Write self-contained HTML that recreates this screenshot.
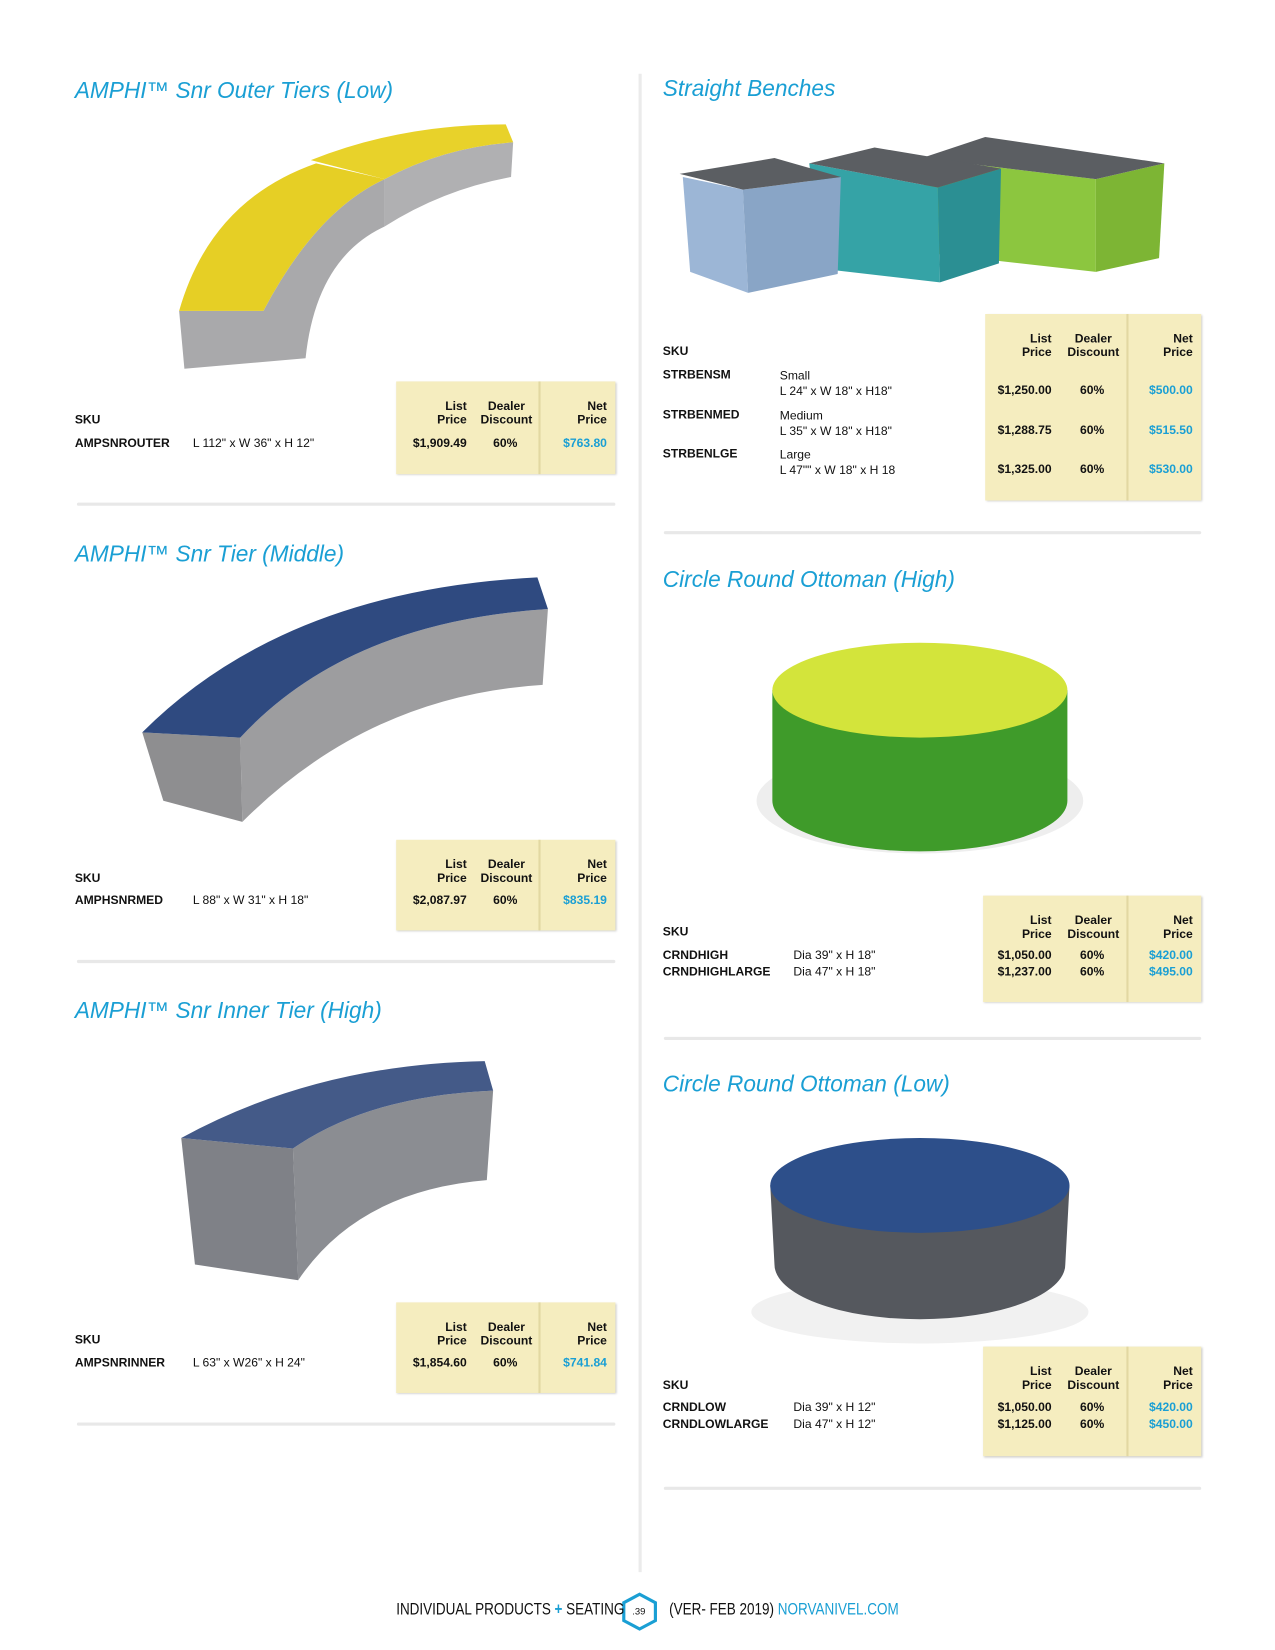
<!DOCTYPE html>
<html><head><meta charset="utf-8">
<style>
*{margin:0;padding:0;box-sizing:border-box}
html,body{width:1275px;height:1650px;overflow:hidden;background:#fff}
#page{position:absolute;left:0;top:0;width:1210px;height:1566px;transform:scale(1.0537);transform-origin:0 0;font-family:"Liberation Sans",sans-serif;color:#111}
.title{position:absolute;color:#1a9fd4;font-family:"Liberation Sans",sans-serif;font-style:italic;font-size:21.5px;white-space:nowrap}
.t{position:absolute;font-size:11.5px;white-space:nowrap}
.b{font-weight:bold}
.box{position:absolute;background:#f5edbf;box-shadow:1px 1px 2px #ccc}
.box .dv{position:absolute;top:0;bottom:0;width:2px;background:#e2d8a2}
.box .t{font-weight:bold}
.sep{position:absolute;height:3px;background:#e8e8e8;border-radius:2px}
svg{position:absolute;left:0;top:0}
.foot{position:absolute;top:1519px;font-family:"Liberation Sans Narrow","Liberation Sans",sans-serif;font-size:16px;white-space:nowrap;transform:scaleX(0.8);transform-origin:0 0}
</style></head><body>
<div id="page">
<svg width="1210" height="1566">
 <rect x="606" y="70" width="3" height="1422" fill="#ebebeb"/>
 <g>
  <path d="M170,295 L250,295 Q300,200 365,170 L365,215 Q300,245 290,340 L175,350 Z" fill="#a9a9ab"/>
  <path d="M170,295 Q200,190 300,155 L365,170 Q300,200 250,295 Z" fill="#e6cf25"/>
  <path d="M365,170 L365,215 Q420,180 485,168 L487,135 Q420,140 365,170Z" fill="#b0b0b2"/>
  <path d="M295,152 L365,170 Q420,140 487,135 L480,118 Q380,118 295,152Z" fill="#e8d22a"/>
 </g>
 <g>
  <path d="M228,700 Q330,590 520,578 L515,650 Q350,660 230,780Z" fill="#9d9d9f"/>
  <path d="M135,695 L228,700 L230,780 L155,760 Z" fill="#8e8e90"/>
  <path d="M135,695 Q270,560 510,548 L520,578 Q330,590 228,700 Z" fill="#2f4a80"/>
 </g>
 <g>
  <path d="M278,1090 Q350,1040 468,1035 L462,1120 Q340,1130 283,1215Z" fill="#8b8d92"/>
  <path d="M172,1080 L278,1090 L283,1215 L185,1200 Z" fill="#7f8187"/>
  <path d="M172,1080 Q300,1010 460,1007 L468,1035 Q350,1040 278,1090 Z" fill="#445a88"/>
 </g>
 <g>
  <path d="M875,150 L1040,170 L1040,258 L880,240Z" fill="#8cc63f"/>
  <path d="M1040,170 L1105,155 L1100,245 L1040,258Z" fill="#7db534"/>
  <path d="M875,150 L935,130 L1105,155 L1040,170Z" fill="#5b5e62"/>
  <path d="M768,155 L890,178 L892,268 L780,255Z" fill="#35a3a6"/>
  <path d="M890,178 L950,160 L948,250 L892,268Z" fill="#2b8f93"/>
  <path d="M768,155 L830,140 L950,160 L890,178Z" fill="#5b5e62"/>
  <path d="M648,168 L705,180 L710,278 L655,258Z" fill="#9cb6d6"/>
  <path d="M705,180 L798,168 L795,260 L710,278Z" fill="#89a5c6"/>
  <path d="M645,165 L735,150 L798,168 L705,180Z" fill="#5b5e62"/>
 </g>
 <g>
  <ellipse cx="873" cy="760" rx="155" ry="50" fill="#eee"/>
  <path d="M733,655 L733,760 A140,48 0 0 0 1013,760 L1013,655Z" fill="#3f9b2a"/>
  <ellipse cx="873" cy="655" rx="140" ry="45" fill="#d3e43b"/>
 </g>
 <g>
  <ellipse cx="873" cy="1245" rx="160" ry="30" fill="#f1f1f1"/>
  <path d="M731,1125 L735,1200 A138,52 0 0 0 1011,1200 L1015,1125Z" fill="#55585e"/>
  <ellipse cx="873" cy="1125" rx="142" ry="45" fill="#2d4f8a"/>
 </g>
 <g>
  <polygon points="607,1513 622,1521 622,1538 607,1546 592,1538 592,1521" fill="none" stroke="#1a9fd4" stroke-width="3"/>
 </g>
</svg>

<div class="title" style="left:71px;top:74px">AMPHI™ Snr Outer Tiers (Low)</div>
<div class="t b" style="left:71px;top:393px">SKU</div>
<div class="t b" style="left:71px;top:415px">AMPSNROUTER</div>
<div class="t" style="left:183px;top:415px">L 112" x W 36" x H 12"</div>
<div class="box" style="left:376px;top:362px;width:208px;height:88px">
 <div class="dv" style="left:135px"></div>
 <div class="t" style="right:141px;top:18px;text-align:right;line-height:13px">List<br>Price</div>
 <div class="t" style="left:80px;top:18px;text-align:center;line-height:13px">Dealer<br>Discount</div>
 <div class="t" style="right:8px;top:18px;text-align:right;line-height:13px">Net<br>Price</div>
 <div class="t" style="right:141px;top:53px">$1,909.49</div>
 <div class="t" style="left:92px;top:53px">60%</div>
 <div class="t" style="right:8px;top:53px;color:#1a9fd4">$763.80</div>
</div>
<div class="sep" style="left:73px;top:477px;width:511px"></div>

<div class="title" style="left:71px;top:514px">AMPHI™ Snr Tier (Middle)</div>
<div class="t b" style="left:71px;top:828px">SKU</div>
<div class="t b" style="left:71px;top:849px">AMPHSNRMED</div>
<div class="t" style="left:183px;top:849px">L 88" x W 31" x H 18"</div>
<div class="box" style="left:376px;top:797px;width:208px;height:86px">
 <div class="dv" style="left:135px"></div>
 <div class="t" style="right:141px;top:18px;text-align:right;line-height:13px">List<br>Price</div>
 <div class="t" style="left:80px;top:18px;text-align:center;line-height:13px">Dealer<br>Discount</div>
 <div class="t" style="right:8px;top:18px;text-align:right;line-height:13px">Net<br>Price</div>
 <div class="t" style="right:141px;top:52px">$2,087.97</div>
 <div class="t" style="left:92px;top:52px">60%</div>
 <div class="t" style="right:8px;top:52px;color:#1a9fd4">$835.19</div>
</div>
<div class="sep" style="left:73px;top:911px;width:511px"></div>

<div class="title" style="left:71px;top:947px">AMPHI™ Snr Inner Tier (High)</div>
<div class="t b" style="left:71px;top:1266px">SKU</div>
<div class="t b" style="left:71px;top:1288px">AMPSNRINNER</div>
<div class="t" style="left:183px;top:1288px">L 63" x W26" x H 24"</div>
<div class="box" style="left:376px;top:1236px;width:208px;height:86px">
 <div class="dv" style="left:135px"></div>
 <div class="t" style="right:141px;top:18px;text-align:right;line-height:13px">List<br>Price</div>
 <div class="t" style="left:80px;top:18px;text-align:center;line-height:13px">Dealer<br>Discount</div>
 <div class="t" style="right:8px;top:18px;text-align:right;line-height:13px">Net<br>Price</div>
 <div class="t" style="right:141px;top:52px">$1,854.60</div>
 <div class="t" style="left:92px;top:52px">60%</div>
 <div class="t" style="right:8px;top:52px;color:#1a9fd4">$741.84</div>
</div>
<div class="sep" style="left:73px;top:1350px;width:511px"></div>

<div class="title" style="left:629px;top:72px">Straight Benches</div>
<div class="t b" style="left:629px;top:328px">SKU</div>
<div class="t b" style="left:629px;top:350px">STRBENSM</div>
<div class="t" style="left:740px;top:350px;line-height:15px">Small<br>L 24" x W 18" x H18"</div>
<div class="t b" style="left:629px;top:388px">STRBENMED</div>
<div class="t" style="left:740px;top:388px;line-height:15px">Medium<br>L 35" x W 18" x H18"</div>
<div class="t b" style="left:629px;top:425px">STRBENLGE</div>
<div class="t" style="left:740px;top:425px;line-height:15px">Large<br>L 47"" x W 18" x H 18</div>
<div class="box" style="left:935px;top:298px;width:205px;height:177px">
 <div class="dv" style="left:134px"></div>
 <div class="t" style="right:142px;top:18px;text-align:right;line-height:13px">List<br>Price</div>
 <div class="t" style="left:78px;top:18px;text-align:center;line-height:13px">Dealer<br>Discount</div>
 <div class="t" style="right:8px;top:18px;text-align:right;line-height:13px">Net<br>Price</div>
 <div class="t" style="right:142px;top:67px">$1,250.00</div><div class="t" style="left:90px;top:67px">60%</div><div class="t" style="right:8px;top:67px;color:#1a9fd4">$500.00</div>
 <div class="t" style="right:142px;top:105px">$1,288.75</div><div class="t" style="left:90px;top:105px">60%</div><div class="t" style="right:8px;top:105px;color:#1a9fd4">$515.50</div>
 <div class="t" style="right:142px;top:142px">$1,325.00</div><div class="t" style="left:90px;top:142px">60%</div><div class="t" style="right:8px;top:142px;color:#1a9fd4">$530.00</div>
</div>
<div class="sep" style="left:630px;top:504px;width:510px"></div>

<div class="title" style="left:629px;top:538px">Circle Round Ottoman (High)</div>
<div class="t b" style="left:629px;top:879px">SKU</div>
<div class="t b" style="left:629px;top:901px">CRNDHIGH</div>
<div class="t" style="left:753px;top:901px">Dia 39" x H 18"</div>
<div class="t b" style="left:629px;top:917px">CRNDHIGHLARGE</div>
<div class="t" style="left:753px;top:917px">Dia 47" x H 18"</div>
<div class="box" style="left:933px;top:850px;width:207px;height:101px">
 <div class="dv" style="left:136px"></div>
 <div class="t" style="right:142px;top:18px;text-align:right;line-height:13px">List<br>Price</div>
 <div class="t" style="left:80px;top:18px;text-align:center;line-height:13px">Dealer<br>Discount</div>
 <div class="t" style="right:8px;top:18px;text-align:right;line-height:13px">Net<br>Price</div>
 <div class="t" style="right:142px;top:51px">$1,050.00</div><div class="t" style="left:92px;top:51px">60%</div><div class="t" style="right:8px;top:51px;color:#1a9fd4">$420.00</div>
 <div class="t" style="right:142px;top:67px">$1,237.00</div><div class="t" style="left:92px;top:67px">60%</div><div class="t" style="right:8px;top:67px;color:#1a9fd4">$495.00</div>
</div>
<div class="sep" style="left:630px;top:984px;width:510px"></div>

<div class="title" style="left:629px;top:1017px">Circle Round Ottoman (Low)</div>
<div class="t b" style="left:629px;top:1309px">SKU</div>
<div class="t b" style="left:629px;top:1330px">CRNDLOW</div>
<div class="t" style="left:753px;top:1330px">Dia 39" x H 12"</div>
<div class="t b" style="left:629px;top:1346px">CRNDLOWLARGE</div>
<div class="t" style="left:753px;top:1346px">Dia 47" x H 12"</div>
<div class="box" style="left:933px;top:1278px;width:207px;height:104px">
 <div class="dv" style="left:136px"></div>
 <div class="t" style="right:142px;top:18px;text-align:right;line-height:13px">List<br>Price</div>
 <div class="t" style="left:80px;top:18px;text-align:center;line-height:13px">Dealer<br>Discount</div>
 <div class="t" style="right:8px;top:18px;text-align:right;line-height:13px">Net<br>Price</div>
 <div class="t" style="right:142px;top:52px">$1,050.00</div><div class="t" style="left:92px;top:52px">60%</div><div class="t" style="right:8px;top:52px;color:#1a9fd4">$420.00</div>
 <div class="t" style="right:142px;top:68px">$1,125.00</div><div class="t" style="left:92px;top:68px">60%</div><div class="t" style="right:8px;top:68px;color:#1a9fd4">$450.00</div>
</div>
<div class="sep" style="left:630px;top:1411px;width:510px"></div>

<div class="foot" style="left:376px">INDIVIDUAL PRODUCTS <span style="color:#1a9fd4;font-weight:bold">+</span> SEATING</div>
<div class="t" style="left:600px;top:1524px;font-size:9px">.39</div>
<div class="foot" style="left:635px">(VER- FEB 2019) <span style="color:#1a9fd4">NORVANIVEL.COM</span></div>
</div>
</body></html>
